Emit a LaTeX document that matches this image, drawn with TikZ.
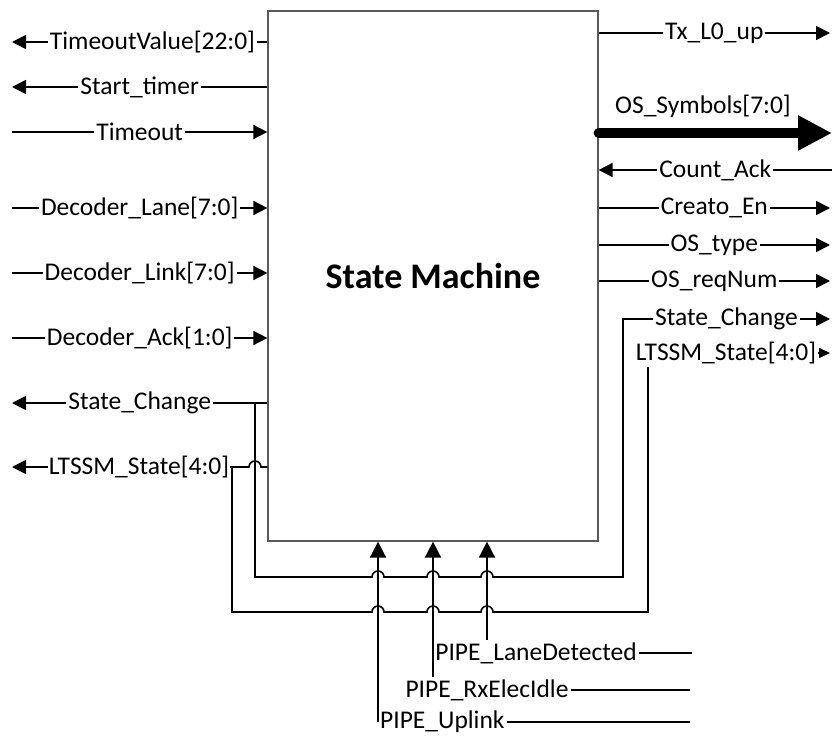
\documentclass[tikz,border=0pt]{standalone}
\usepackage{fontspec}
\setmainfont{Carlito}
\usetikzlibrary{arrows.meta}

\newcommand{\siglabel}{\fontsize{25.5}{29}\selectfont}

\tikzset{
  wire/.style={line width=1.6pt},
  sigarrow/.style={wire,-{Triangle[length=14pt,width=14pt]}},
  smallarrow/.style={wire,-{Triangle[length=11pt,width=10pt]}},
  uparrow/.style={wire,-{Triangle[length=16pt,width=16pt]}},
  lbl/.style={fill=white,inner xsep=2pt,inner ysep=3pt,font=\siglabel},
  pinlbl/.style={inner sep=2pt,font=\siglabel}
}

\begin{document}
\begin{tikzpicture}[x=1pt,y=-1pt]  % pixel-like units, y grows downwards
    \useasboundingbox (0,0) rectangle (832,738);

    % The main block
    \node[draw=black!65,line width=1.2pt,minimum width=330pt,minimum height=530pt,
          inner sep=0pt,font=\fontsize{36}{40}\selectfont\bfseries] (sm) at (433,276) {State Machine};

    % Left side: outputs
    \draw[sigarrow] (sm.west |- 0,42) -- (12,42) node[lbl,pos=0.45]{TimeoutValue[22:0]};
    \foreach \y/\name in {87/Start\_timer, 403/State\_Change} {
        \draw[sigarrow] (sm.west |- 0,\y) -- (12,\y) node[lbl,midway]{\name};
    }
    % LTSSM state hops over the state change feedback
    \draw[sigarrow] (sm.west |- 0,467) -- (261,467) arc[start angle=0,end angle=180,radius=6pt] -- (12,467);
    \node[lbl,inner xsep=1pt] (ltssmL) at (139,467) {LTSSM\_State[4:0]};

    % Left side: inputs
    \foreach \y/\name in {132/Timeout, 208/Decoder\_Lane[7:0], 273/Decoder\_Link[7:0], 338/Decoder\_Ack[1:0]} {
        \draw[sigarrow] (12,\y) -- (sm.west |- 0,\y) node[lbl,midway]{\name};
    }

    % Right side
    \foreach \y/\name in {33/Tx\_L0\_up, 208/Creato\_En, 245/OS\_type, 281/OS\_reqNum} {
        \draw[sigarrow] (sm.east |- 0,\y) -- (830,\y) node[lbl,midway]{\name};
    }
    \draw[sigarrow] (832,170) -- (sm.east |- 0,170) node[lbl,midway]{Count\_Ack};

    % Wide symbol bus
    \draw[line width=10pt,line cap=round,-{Triangle[length=34pt,width=33pt]}] (sm.east |- 0,133) -- (832,133);
    \node[pinlbl] (sym) at (703,106) {OS\_Symbols[7:0]};

    % Feedback loops under the block
    \draw[sigarrow] (255,403) -- (255,577)
        foreach \x in {378,433,487} { -- (\x-6,577) arc[start angle=180,end angle=0,radius=6pt] }
        -- (623,577) -- (623,319) -- (830,319) node[lbl,midway]{State\_Change};
    \draw[smallarrow] (232,467) -- (232,612)
        foreach \x in {378,433,487} { -- (\x-6,612) arc[start angle=180,end angle=0,radius=6pt] }
        -- (648,612) -- (648,353) -- (830,353);
    \node[lbl] (ltssmR) at (726,353) {LTSSM\_State[4:0]};

    % PIPE inputs from below
    \node[pinlbl] (lane) at (536,653) {PIPE\_LaneDetected};
    \node[pinlbl] (idle) at (487,690) {PIPE\_RxElecIdle};
    \node[pinlbl,anchor=west] (uplink) at (378,722) {PIPE\_Uplink};

    \draw[uparrow] (487,0 |- lane.north) -- (487,0 |- sm.south);
    \draw[uparrow] (433,0 |- idle.north) -- (433,0 |- sm.south);
    \draw[uparrow] (uplink.west) -- (uplink.west |- sm.south);

    \draw[wire] (lane.east) -- (692,0 |- lane.east);
    \draw[wire] (idle.east) -- (690,0 |- idle.east);
    \draw[wire] (uplink.east) -- (690,0 |- uplink.east);
\end{tikzpicture}
\end{document}
